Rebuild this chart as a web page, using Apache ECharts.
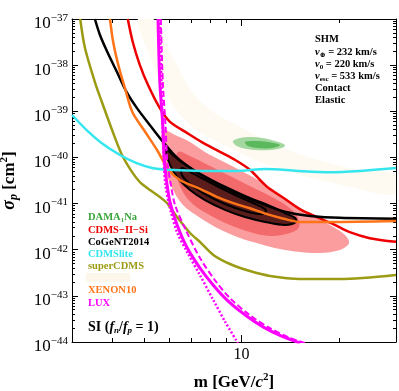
<!DOCTYPE html>
<html>
<head>
<meta charset="utf-8">
<script src="https://cdn.jsdelivr.net/npm/echarts@6/dist/echarts.min.js"></script>
<style>
html, body { margin: 0; padding: 0; background: #fff; }
#chart { width: 399px; height: 391px; }
</style>
</head>
<body>
<div id="chart"></div>
<script>
// axis ranges and ticks
const massRange = [3, 30];
const sigmaRange = [1e-44, 1e-37];
const massLabels = [10];
const massMinor = [4, 5, 6, 7, 8, 9, 20];
// sigma is handed to the chart in units of 1e-44 cm^2 (the log axis rounds tiny raw numbers to 0)
const sigmaUnit = 1e-44;
const sigmaDecades = [0, 1, 2, 3, 4, 5, 6, 7];

// exclusion limits [m GeV, sigma cm^2]
const superCDMS = [[3.18, 1e-37], [3.29, 2.35e-38], [3.53, 4.3e-39], [3.71, 1.59e-39], [4.01, 3.56e-40], [4.28, 1.13e-40], [4.60, 4.8e-41], [4.86, 2.93e-41], [5.22, 1.97e-41], [5.60, 1.39e-41], [5.89, 1.03e-41], [6.33, 5.1e-42], [6.94, 2.3e-42], [7.45, 1.47e-42], [8.19, 7.7e-43], [9.22, 4.9e-43], [10.62, 3.45e-43], [12.25, 2.7e-43], [15.15, 2.32e-43], [20.13, 2.32e-43], [30, 2.83e-43]];
const cdmsLite = [[3, 8.3e-40], [3.33, 3.9e-40], [3.7, 2.06e-40], [4.22, 1.13e-40], [4.73, 7.6e-41], [5.3, 5.9e-41], [6.0, 5.4e-41], [7.5, 5.1e-41], [9.6, 5.1e-41], [11.9, 5.6e-41], [14.9, 5.1e-41], [18.7, 4.8e-41], [23.2, 5.1e-41], [30, 5.9e-41]];
const cdmsIISi = [[4.46, 1e-37], [4.62, 3.18e-38], [4.86, 1e-38], [5.15, 3.7e-39], [5.60, 1.17e-39], [6.02, 5.9e-40], [6.79, 3.4e-40], [7.55, 2.14e-40], [8.59, 1.32e-40], [9.6, 8.7e-41], [10.62, 5.4e-41], [12.0, 2.3e-41], [13.5, 1.32e-41], [15.15, 7.6e-42], [17.1, 5.1e-42], [19.2, 3.6e-42], [21.6, 2.4e-42], [24.9, 1.78e-42], [30, 1.48e-42]];
const cogent = [[3.53, 1e-37], [3.66, 4.5e-38], [3.86, 1.9e-38], [4.13, 7.1e-39], [4.42, 2.63e-39], [4.76, 1.17e-39], [5.22, 5e-40], [5.74, 2.14e-40], [6.34, 9.8e-41], [7.10, 5.4e-41], [8.0, 3.24e-41], [9.22, 1.95e-41], [10.62, 1.26e-41], [12.25, 8.5e-42], [14.1, 6.3e-42], [16.3, 5.4e-42], [20.1, 4.9e-42], [30, 4.7e-42]];
const xenon10 = [[3.93, 1e-37], [4.02, 3.16e-38], [4.17, 1e-38], [4.37, 3.16e-39], [4.61, 9.5e-40], [5.05, 3.55e-40], [5.49, 1.45e-40], [5.96, 5.4e-41], [6.46, 3.24e-41], [7.45, 2.09e-41], [8.43, 1.38e-41], [9.44, 1.02e-41], [10.62, 7.9e-42], [12.0, 5.9e-42], [13.5, 4.7e-42], [15.15, 4.0e-42], [18.75, 4.0e-42], [30, 4.2e-42]];
const luxSolid = [[5.53, 1e-37], [5.60, 4.3e-39], [5.72, 5e-40], [5.79, 7.9e-41], [5.87, 3.24e-41], [6.02, 1.07e-41], [6.33, 3.47e-42], [6.80, 1.1e-42], [7.45, 4e-43], [8.19, 1.7e-43], [9.03, 8.1e-44], [10.3, 3.8e-44], [11.7, 2.1e-44], [13.1, 1.41e-44], [15.15, 9.5e-45]];
const luxDashed = [[5.64, 1e-37], [5.72, 4.3e-39], [5.83, 5e-40], [5.91, 7.9e-41], [6.06, 2.5e-41], [6.24, 9.3e-42], [6.73, 2.7e-42], [7.45, 6.6e-43], [8.28, 2.2e-43], [9.22, 8.9e-44], [10.62, 3.8e-44], [12.25, 2.0e-44], [14.1, 1.23e-44], [15.7, 9.5e-45]];
const luxDotted = [[5.60, 1e-37], [5.68, 1.74e-39], [5.76, 8.7e-41], [5.83, 2.5e-41], [6.02, 7.9e-42], [6.33, 2.4e-42], [6.80, 8.9e-43], [7.45, 2.8e-43], [8.19, 8.1e-44], [8.92, 2.7e-44], [9.75, 9.5e-45]];

// signal regions (closed contours)
const paleBand = [[5.35, 1e-37], [5.80, 3.2e-38], [6.40, 8.5e-39], [7.05, 2.6e-39], [8.20, 9.5e-40], [9.9, 4.6e-40], [12.25, 2.1e-40], [16.3, 1.0e-40], [22.4, 5.6e-41], [30, 4.2e-41], [30, 1.6e-41], [21.6, 2.3e-41], [15.15, 4.2e-41], [11.4, 8.0e-41], [9.22, 1.6e-40], [7.45, 3.5e-40], [6.46, 8.5e-40], [5.75, 3.0e-39], [5.20, 1.7e-38], [4.79, 1e-37]];
const cdmsSi90 = [[5.73, 3.93e-40], [6.24, 3.06e-40], [6.94, 2.16e-40], [7.72, 1.31e-40], [8.59, 8.8e-41], [9.90, 5.3e-41], [11.41, 3.08e-41], [13.15, 1.61e-41], [15.15, 8.0e-42], [17.47, 4.6e-42], [19.44, 2.95e-42], [20.88, 2.09e-42], [21.49, 1.4e-42], [20.13, 9.9e-43], [17.47, 8.5e-43], [15.15, 8.9e-43], [13.15, 1.03e-42], [11.41, 1.33e-42], [9.90, 1.79e-42], [8.41, 2.95e-42], [7.45, 4.9e-42], [6.60, 9.3e-42], [6.11, 2.17e-41], [5.79, 5.9e-41], [5.69, 1.6e-40]];
const cdmsSi68 = [[6.37, 1.31e-40], [6.94, 1.07e-40], [8.0, 6.5e-41], [9.22, 3.95e-41], [10.62, 2.4e-41], [12.25, 1.46e-41], [13.83, 8.9e-42], [14.85, 5.4e-42], [15.06, 3.1e-42], [14.11, 2.3e-42], [12.25, 1.98e-42], [10.62, 2.42e-42], [9.22, 3.43e-42], [8.0, 5.6e-42], [7.13, 9.3e-42], [6.60, 1.78e-41], [6.28, 4.8e-41]];
const cogent90 = [[5.85, 1.45e-40], [6.46, 8.4e-41], [7.13, 5.3e-41], [8.0, 3.4e-41], [9.22, 2.07e-41], [10.62, 1.32e-41], [12.25, 8.9e-42], [13.63, 6.2e-42], [14.64, 4.9e-42], [14.75, 4.0e-42], [13.63, 3.43e-42], [11.83, 4.0e-42], [10.26, 5.1e-42], [8.90, 7.3e-42], [7.72, 1.19e-41], [6.94, 1.97e-41], [6.37, 3.58e-41], [6.02, 6.9e-41]];
const cogent68 = [[6.55, 5.9e-41], [7.13, 4.4e-41], [8.28, 2.52e-41], [9.57, 1.53e-41], [11.02, 9.8e-42], [11.91, 7.2e-42], [11.58, 5.9e-42], [10.26, 6.9e-42], [8.90, 9.8e-42], [7.72, 1.61e-41], [6.94, 2.65e-41], [6.55, 4.2e-41]];
const damaOuter = [[9.42, 2.27e-40], [9.90, 2.64e-40], [10.62, 2.77e-40], [11.58, 2.64e-40], [12.69, 2.27e-40], [13.63, 1.86e-40], [13.34, 1.6e-40], [12.25, 1.45e-40], [11.02, 1.45e-40], [10.04, 1.6e-40], [9.57, 1.86e-40]];
const damaInner = [[10.26, 2.16e-40], [11.02, 2.27e-40], [12.08, 2.16e-40], [13.15, 1.86e-40], [12.43, 1.6e-40], [11.25, 1.6e-40], [10.48, 1.77e-40]];

const serif = "'Liberation Serif', 'DejaVu Serif', serif";
const toChart = pts => pts.map(([m, s]) => [m, s / sigmaUnit]);

const yMajor = sigmaDecades.map(d => Math.pow(10, d));
const yMinor = [];
sigmaDecades.slice(0, -1).forEach(d => {
  for (let k = 2; k <= 9; k++) yMinor.push(k * Math.pow(10, d));
});

function regionSeries(points, fill, stroke, width, z) {
  const pts = toChart(points);
  return {
    type: "custom",
    coordinateSystem: "cartesian2d",
    data: [[10, 1000]],
    clip: true,
    silent: true,
    z: z,
    renderItem: (params, api) => ({
      type: "polygon",
      shape: { points: pts.map(p => api.coord(p)), smooth: 0.35 },
      style: { fill: fill, stroke: stroke || null, lineWidth: width || 0 }
    })
  };
}

function limitSeries(points, color, width, type, z) {
  return {
    type: "line",
    data: toChart(points),
    smooth: 0.3,
    showSymbol: false,
    symbol: "none",
    clip: true,
    silent: true,
    z: z || 5,
    lineStyle: { color: color, width: width, type: type || "solid" }
  };
}

function baseX(position, ticks, len, showLine, labels) {
  return {
    type: "log", logBase: 10, min: massRange[0], max: massRange[1], position: position,
    axisLine: { show: showLine, onZero: false, lineStyle: { color: "#000", width: 1 } },
    axisTick: { show: true, inside: true, length: len, customValues: ticks, lineStyle: { color: "#000" } },
    axisLabel: labels ? {
      show: true, customValues: labels, margin: 5, color: "#000", fontFamily: serif, fontSize: 16,
      formatter: v => String(Math.round(v))
    } : { show: false },
    splitLine: { show: false }, minorTick: { show: false }
  };
}

function baseY(position, ticks, len, showLine, labels) {
  return {
    type: "log", logBase: 10,
    min: sigmaRange[0] / sigmaUnit, max: sigmaRange[1] / sigmaUnit, position: position,
    axisLine: { show: showLine, onZero: false, lineStyle: { color: "#000", width: 1 } },
    axisTick: { show: true, inside: true, length: len, customValues: ticks, lineStyle: { color: "#000" } },
    axisLabel: labels ? {
      show: true, customValues: labels, margin: 4, color: "#000", fontFamily: serif,
      showMinLabel: true, showMaxLabel: true, hideOverlap: false,
      formatter: v => "{b|10}{e|\u2212" + (-(Math.round(Math.log10(v)) + Math.round(Math.log10(sigmaUnit)))) + "}",
      rich: {
        b: { fontSize: 17, fontFamily: serif, color: "#000", padding: [10, 0, 0, 0] },
        e: { fontSize: 11, fontFamily: serif, color: "#000", padding: [0, 0, 2, 0] }
      }
    } : { show: false },
    splitLine: { show: false }, minorTick: { show: false }
  };
}

const xMain = baseX("bottom", massLabels, 7, true, massLabels);
xMain.name = "m [GeV/{i|c}{s|2}]";
xMain.nameLocation = "middle";
xMain.nameGap = 30;
xMain.nameTextStyle = {
  fontFamily: serif, fontSize: 17, fontWeight: "bold", color: "#000",
  rich: {
    i: { fontFamily: serif, fontSize: 17, fontWeight: "bold", fontStyle: "italic", color: "#000" },
    s: { fontFamily: serif, fontSize: 11, fontWeight: "bold", color: "#000", padding: [0, 0, 10, 0] }
  }
};

const yMain = baseY("left", yMajor, 6, true, yMajor);
yMain.name = "{i|\u03c3}{p|p} [cm{s|2}]";
yMain.nameLocation = "middle";
yMain.nameGap = 52;
yMain.nameTextStyle = {
  fontFamily: serif, fontSize: 17, fontWeight: "bold", color: "#000",
  rich: {
    i: { fontFamily: serif, fontSize: 18, fontWeight: "bold", fontStyle: "italic", color: "#000" },
    p: { fontFamily: serif, fontSize: 12, fontWeight: "bold", fontStyle: "italic", color: "#000", padding: [9, 0, 0, 0] },
    s: { fontFamily: serif, fontSize: 11, fontWeight: "bold", color: "#000", padding: [0, 0, 10, 0] }
  }
};

const legendItems = [
  ["DAMA{sub|1}Na", "#3aa53a", 217],
  ["CDMS\u2212II\u2212Si", "#ee0000", 230],
  ["CoGeNT2014", "#000000", 242],
  ["CDMSlite", "#35e6ee", 254],
  ["superCDMS", "#9b9b14", 266],
  ["XENON10", "#ff7418", 290],
  ["LUX", "#ff00ff", 303]
];

const legendGraphics = legendItems.map(([txt, col, y]) => ({
  type: "text", x: 88, y: y, z: 100,
  style: {
    text: txt, fill: col, font: "bold 10.5px " + serif, verticalAlign: "middle",
    rich: { sub: { fill: col, fontSize: 7, fontWeight: "bold", fontFamily: serif, padding: [6, 0, 0, 0] } }
  }
}));

const infoLines = [
  ["SHM", 39],
  ["{v|v}{sub|\u2295} = 232 km/s", 52],
  ["{v|v}{sub|0} = 220 km/s", 64],
  ["{v|v}{sub|esc} = 533 km/s", 76],
  ["Contact", 88],
  ["Elastic", 100]
];

const infoGraphics = infoLines.map(([txt, y]) => ({
  type: "text", x: 315, y: y, z: 100,
  style: {
    text: txt, fill: "#000", font: "bold 10.5px " + serif, verticalAlign: "middle",
    rich: {
      v: { fill: "#000", fontSize: 10.5, fontWeight: "bold", fontStyle: "italic", fontFamily: serif },
      sub: { fill: "#000", fontSize: 7, fontWeight: "bold", fontFamily: serif, padding: [6, 0, 0, 0] }
    }
  }
}));

const chart = echarts.init(document.getElementById("chart"));
chart.setOption({
  animation: false,
  backgroundColor: "#fff",
  grid: { left: 72, right: 3, top: 19, bottom: 49, containLabel: false, outerBoundsMode: "none" },
  xAxis: [
    xMain,
    baseX("bottom", massMinor, 4, false, null),
    baseX("top", massLabels, 7, true, null),
    baseX("top", massMinor, 4, false, null)
  ],
  yAxis: [
    yMain,
    baseY("left", yMinor, 3, false, null),
    baseY("right", yMajor, 6, true, null),
    baseY("right", yMinor, 3, false, null)
  ],
  series: [
    regionSeries(paleBand, "#fefaf1", null, 0, 1),
    regionSeries(cdmsSi90, "#fb9d9e", null, 0, 2),
    regionSeries(cdmsSi68, "#f36a6c", null, 0, 3),
    regionSeries(cogent90, "#5b1c1c", "#000", 2, 4),
    regionSeries(cogent68, null, "#000", 2, 4),
    regionSeries(damaOuter, "#a3d8a0", null, 0, 4),
    regionSeries(damaInner, "#5cb85c", null, 0, 4),
    limitSeries(superCDMS, "#9b9b14", 2.5),
    limitSeries(cdmsIISi, "#ee0000", 2.5),
    limitSeries(cogent, "#000000", 2.5),
    limitSeries(xenon10, "#ff7418", 2.5),
    limitSeries(cdmsLite, "#35e6ee", 2.5),
    limitSeries(luxDotted, "#ff00ff", 2.5, [2, 2], 6),
    limitSeries(luxDashed, "#ff00ff", 2, [6, 3], 6),
    limitSeries(luxSolid, "#ff00ff", 3, "solid", 6)
  ],
  graphic: [
    ...legendGraphics,
    { type: "rect", z: 100, shape: { x: 86, y: 273, width: 44, height: 9 }, style: { fill: "#fdf6ea" } },
    {
      type: "text", x: 88, y: 327, z: 100,
      style: {
        text: "SI ({f|f}{s|n}/{f|f}{s|p} = 1)", fill: "#000", font: "bold 14px " + serif, verticalAlign: "middle",
        rich: {
          f: { fill: "#000", fontSize: 14, fontWeight: "bold", fontStyle: "italic", fontFamily: serif },
          s: { fill: "#000", fontSize: 9, fontWeight: "bold", fontStyle: "italic", fontFamily: serif, padding: [7, 0, 0, 0] }
        }
      }
    },
    ...infoGraphics
  ]
});
</script>
</body>
</html>
